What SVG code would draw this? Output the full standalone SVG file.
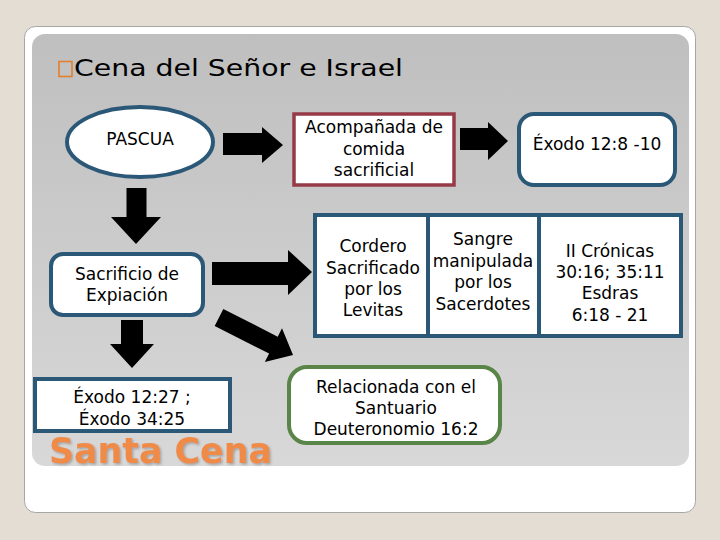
<svg xmlns="http://www.w3.org/2000/svg" width="720" height="540" viewBox="0 0 720 540">
<defs>
<linearGradient id="panelGrad" x1="0" y1="0" x2="0" y2="1">
<stop offset="0" stop-color="#bfbfbf"/>
<stop offset="1" stop-color="#d8d8d8"/>
</linearGradient>
<filter id="shadow" x="-10%" y="-20%" width="120%" height="150%">
<feDropShadow dx="1.5" dy="1.5" stdDeviation="0.8" flood-color="#808080" flood-opacity="0.6"/>
</filter>
<style>
.t{font-family:"DejaVu Sans","Liberation Sans",sans-serif;font-size:17px;fill:#000;text-anchor:middle}
.blue{fill:#fff;stroke:#2c5878;stroke-width:4}
.red{fill:#fff;stroke:#953a46;stroke-width:3.5}
.green{fill:#fff;stroke:#5a8548;stroke-width:4}
.arr{fill:#000}
</style>
</defs>
<rect x="0" y="0" width="720" height="540" fill="#e3ddd3"/>
<rect x="24.5" y="26.5" width="671" height="486" rx="11" fill="#fff" stroke="#a6a6a6" stroke-width="1"/>
<rect x="32" y="34" width="657" height="432" rx="13" fill="url(#panelGrad)"/>

<g id="title">
<rect x="59" y="61.5" width="13" height="15" fill="none" stroke="#e08030" stroke-width="1.6"/>
<text x="74" y="76" font-family="DejaVu Sans, Liberation Sans, sans-serif" font-size="23" fill="#000" textLength="329" lengthAdjust="spacingAndGlyphs">Cena del Señor e Israel</text>
</g>

<g id="connectors">
<polygon class="arr" points="223,133 262,133 262,127 283,145 262,163 262,155 223,155"/>
<polygon class="arr" points="460,128 488,128 488,122 508,141 488,160 488,150 460,150"/>
<polygon class="arr" points="212,262 288,262 288,250 312,272 288,295 288,285 212,285"/>
<polygon class="arr" points="126.5,188 146.5,188 146.5,217 161,217 136,244 111,217 126.5,217"/>
<polygon class="arr" points="121,320 143,320 143,344 154,344 132,368 110,344 121,344"/>
<polygon class="arr" transform="translate(219,317.5) rotate(26.9)" points="0,-9.5 61,-9.5 61,-19 83,0 61,19 61,9.5 0,9.5"/>
</g>

<g id="pascua">
<ellipse cx="140" cy="142" rx="73" ry="35" class="blue"/>
<text class="t" x="140" y="145">PASCUA</text>
</g>

<g id="sacrificio">
<rect x="51" y="254" width="152" height="61" rx="12" class="blue"/>
<text class="t" x="127" y="280">Sacrificio de</text>
<text class="t" x="127" y="301">Expiación</text>
</g>

<g id="exodo-12-27">
<rect x="35" y="379" width="195" height="52" class="blue"/>
<text class="t" x="132" y="403">Éxodo 12:27 ;</text>
<text class="t" x="132" y="425">Éxodo 34:25</text>
</g>

<g id="santa-cena">
<text x="49" y="463" font-family="DejaVu Sans, Liberation Sans, sans-serif" font-weight="bold" font-size="36" fill="#f08b47" textLength="223" lengthAdjust="spacingAndGlyphs" filter="url(#shadow)">Santa Cena</text>
</g>

<g id="acompanada">
<rect x="294" y="114" width="160" height="71" class="red"/>
<text class="t" x="374" y="133">Acompañada de</text>
<text class="t" x="374" y="155">comida</text>
<text class="t" x="374" y="176">sacrificial</text>
</g>

<g id="exodo-12-8">
<rect x="519" y="114" width="156" height="71" rx="15" class="blue"/>
<text class="t" x="597" y="150">Éxodo 12:8 -10</text>
</g>

<g id="tabla">
<rect x="315" y="215" width="366" height="121" class="blue"/>
<line x1="428" y1="215" x2="428" y2="336" stroke="#2c5878" stroke-width="4"/>
<line x1="539" y1="215" x2="539" y2="336" stroke="#2c5878" stroke-width="4"/>
<text class="t" x="373" y="252">Cordero</text>
<text class="t" x="373" y="274">Sacrificado</text>
<text class="t" x="373" y="295">por los</text>
<text class="t" x="373" y="316">Levitas</text>
<text class="t" x="483" y="245">Sangre</text>
<text class="t" x="483" y="267">manipulada</text>
<text class="t" x="483" y="288">por los</text>
<text class="t" x="483" y="310">Sacerdotes</text>
<text class="t" x="610" y="257">II Crónicas</text>
<text class="t" x="610" y="278">30:16; 35:11</text>
<text class="t" x="610" y="299">Esdras</text>
<text class="t" x="610" y="321">6:18 - 21</text>
</g>

<g id="relacionada">
<rect x="289" y="367" width="211" height="76" rx="18" class="green"/>
<text class="t" x="396" y="393">Relacionada con el</text>
<text class="t" x="396" y="414">Santuario</text>
<text class="t" x="396" y="435">Deuteronomio 16:2</text>
</g>
</svg>
